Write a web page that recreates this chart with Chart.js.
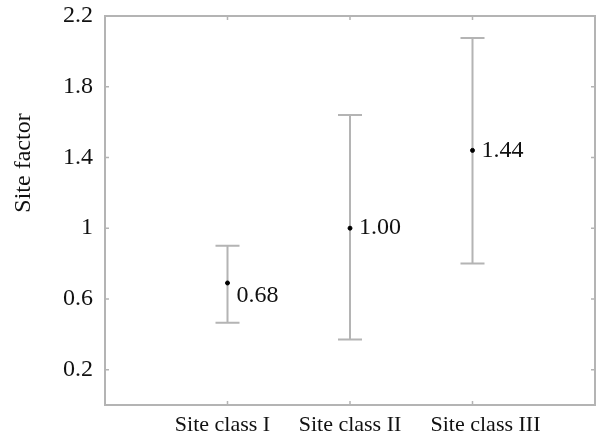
<!DOCTYPE html>
<html>
<head>
<meta charset="utf-8">
<script src="https://cdn.jsdelivr.net/npm/chart.js@4"></script>
<style>
  html, body { margin:0; padding:0; background:#fff; }
  #wrap { width:598px; height:437px; }
</style>
</head>
<body>
<div id="wrap"><canvas id="c" width="598" height="437"></canvas></div>
<script>
// site factor per site class: mean with min/max range
const categories = ['Site class I', 'Site class II', 'Site class III'];
const means = [0.69, 1.00, 1.44];
const lows = [0.465, 0.37, 0.80];
const highs = [0.90, 1.64, 2.075];
const meanLabels = ['0.68', '1.00', '1.44'];
const yTicks = [0.2, 0.6, 1, 1.4, 1.8, 2.2];

const FONT = '"Liberation Serif", "Times New Roman", serif';
const GREY = '#b4b4b4';
// the category labels are not quite centred on their ticks in the original
const catLabelShift = [-5, 0, 13];

// error bars, frame with inward ticks, value labels, axis texts
const plotExtras = {
  id: 'plotExtras',
  beforeDatasetsDraw(chart) {
    const {ctx, chartArea: a, scales: {x, y}} = chart;
    ctx.save();
    ctx.strokeStyle = GREY;
    ctx.lineWidth = 2;
    ctx.strokeRect(a.left, a.top, a.right - a.left, a.bottom - a.top);
    ctx.lineWidth = 1.5;
    ctx.beginPath();
    yTicks.forEach(v => {
      const py = y.getPixelForValue(v);
      ctx.moveTo(a.left, py); ctx.lineTo(a.left + 4, py);
      ctx.moveTo(a.right, py); ctx.lineTo(a.right - 4, py);
    });
    categories.forEach((c, i) => {
      const px = x.getPixelForValue(i + 1);
      ctx.moveTo(px, a.bottom); ctx.lineTo(px, a.bottom - 4);
      ctx.moveTo(px, a.top); ctx.lineTo(px, a.top + 4);
    });
    ctx.stroke();

    ctx.lineWidth = 2;
    ctx.beginPath();
    categories.forEach((c, i) => {
      const px = x.getPixelForValue(i + 1);
      const lo = y.getPixelForValue(lows[i]);
      const hi = y.getPixelForValue(highs[i]);
      ctx.moveTo(px, lo); ctx.lineTo(px, hi);
      ctx.moveTo(px - 12, lo); ctx.lineTo(px + 12, lo);
      ctx.moveTo(px - 12, hi); ctx.lineTo(px + 12, hi);
    });
    ctx.stroke();
    ctx.restore();
  },
  afterDatasetsDraw(chart) {
    const {ctx, chartArea: a, scales: {x, y}} = chart;
    ctx.save();
    ctx.fillStyle = '#111';
    ctx.font = '24px ' + FONT;
    ctx.textBaseline = 'middle';
    ctx.textAlign = 'left';
    const dy = [13, 0, 0];
    categories.forEach((c, i) => {
      ctx.fillText(meanLabels[i], x.getPixelForValue(i + 1) + 9, y.getPixelForValue(means[i]) + dy[i]);
    });

    ctx.font = '22px ' + FONT;
    ctx.textAlign = 'center';
    ctx.textBaseline = 'alphabetic';
    categories.forEach((c, i) => {
      ctx.fillText(c, x.getPixelForValue(i + 1) + catLabelShift[i], a.bottom + 26);
    });

    ctx.font = '24px ' + FONT;
    ctx.textBaseline = 'middle';
    ctx.translate(24, 163);
    ctx.rotate(-Math.PI / 2);
    ctx.fillText('Site factor', 0, 0);
    ctx.restore();
  }
};

new Chart(document.getElementById('c'), {
  type: 'scatter',
  data: {
    datasets: [{
      data: means.map((m, i) => ({x: i + 1, y: m})),
      backgroundColor: '#000',
      borderColor: '#000',
      pointRadius: 2,
      pointHoverRadius: 2
    }]
  },
  options: {
    responsive: false,
    animation: false,
    layout: {padding: {top: 0, right: 2, left: 0, bottom: 0}},
    plugins: {legend: {display: false}, tooltip: {enabled: false}},
    scales: {
      x: {
        type: 'linear', min: 0, max: 4,
        grid: {display: false}, border: {display: false},
        afterBuildTicks: s => { s.ticks = categories.map((c, i) => ({value: i + 1})); },
        afterFit: s => { s.height = 32; },
        ticks: {display: false}
      },
      y: {
        min: 0, max: 2.2,
        grid: {display: false}, border: {display: false},
        afterBuildTicks: s => { s.ticks = yTicks.map(v => ({value: v})); },
        afterFit: s => { s.width = 105; },
        ticks: {
          padding: 4, color: '#111', font: {family: FONT, size: 24, lineHeight: 1.0},
          callback: v => String(v)
        }
      }
    }
  },
  plugins: [plotExtras]
});
</script>
</body>
</html>
